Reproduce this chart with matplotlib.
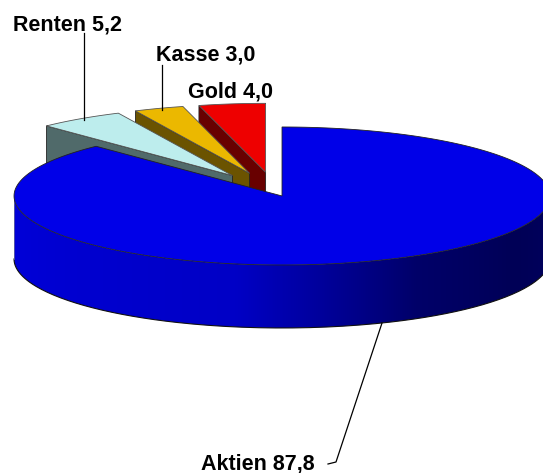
import numpy as np
import matplotlib
matplotlib.use("Agg")
import matplotlib.pyplot as plt
from matplotlib.patches import Polygon

# data
labels = ['Aktien', 'Renten', 'Kasse', 'Gold']
values = [87.8, 5.2, 3.0, 4.0]
value_text = ['87,8', '5,2', '3,0', '4,0']
top_colors = ['#0000E8', '#BDEDED', '#EBB800', '#EE0000']
side_colors = ['#0000C0', '#506A6A', '#6B5300', '#680000']
explode = [0.07, 0.28, 0.28, 0.28]

# pie geometry in pixel space
cx, cy = 275, 191.5
rx, ry = 268, 69
depth = 63

fig = plt.figure(figsize=(5.43, 4.73), dpi=100)
ax = fig.add_axes([0, 0, 1, 1])
ax.set_xlim(0, 543)
ax.set_ylim(473, 0)
ax.axis('off')


def pt(x0, y0, a, r=1.0, z=0.0):
    t = np.radians(a)
    return x0 + rx * r * np.cos(t), y0 - ry * r * np.sin(t) + z


def blue_side(a):
    # shade of the front wall, bright at the left, dark navy at the right
    a = np.asarray(a) % 360
    return np.interp(a, [180, 260, 300, 330, 360], [218, 198, 105, 86, 95]) / 255


total = sum(values)
spans = []
start = 90.0
for v in values:
    end = start - v / total * 360
    spans.append((end, start))
    start = end

centers = []
for i, (t1, t2) in enumerate(spans):
    mid = np.radians((t1 + t2) / 2)
    centers.append((cx + explode[i] * rx * np.cos(mid), cy - explode[i] * ry * np.sin(mid)))

# back to front: Gold, Kasse, Renten, Aktien
for i in [3, 2, 1, 0]:
    t1, t2 = spans[i]
    x0, y0 = centers[i]
    arc = np.linspace(t1, t2, 200)
    z = 2 + (3 - i) * 3
    # radial wall at the ccw end
    if np.cos(np.radians(t2)) < -1e-6:
        ox, oy = pt(x0, y0, t2)
        wall = [(x0, y0), (ox, oy), (ox, oy + depth), (x0, y0 + depth)]
        ax.add_patch(Polygon(wall, closed=True, facecolor=side_colors[i],
                             edgecolor='#222222', linewidth=0.6, zorder=z))
    # curved outer wall, shaded with a gradient
    if i == 0:
        steps = np.linspace(max(t1, -180), min(t2, 0), 200)
        bx, by = pt(x0, y0, steps)
        outline = list(zip(bx, by)) + list(zip(bx[::-1], by[::-1] + depth))
        side = Polygon(outline, closed=True, facecolor='none', edgecolor='none', zorder=20)
        ax.add_patch(side)
        xs = np.linspace(bx.min(), bx.max(), 600)
        ang = 360 - np.degrees(np.arccos(np.clip((xs - x0) / rx, -1, 1)))
        grad = np.zeros((2, len(xs), 3))
        grad[:, :, 2] = blue_side(ang)
        im = ax.imshow(grad, extent=(bx.min(), bx.max(), by.max() + depth + 2, by.min() - 2),
                       aspect='auto', interpolation='bilinear', zorder=20)
        im.set_clip_path(side)
        ax.plot(bx, by + depth, color='#111111', linewidth=0.8, zorder=21)
        ax.plot([bx[0], bx[0]], [by[0], by[0] + depth], color='#6060A0',
                linewidth=0.6, zorder=21)
    # top face
    px, py = pt(x0, y0, arc)
    face = [(x0, y0)] + list(zip(px, py))
    ax.add_patch(Polygon(face, closed=True, facecolor=top_colors[i],
                         edgecolor='#222222' if i == 0 else '#555555',
                         linewidth=0.6, zorder=z + 1 if i else 22))

ax.set_xlim(0, 543)
ax.set_ylim(473, 0)

# labels and leader lines
font = dict(family='Liberation Sans', fontweight='bold', fontsize=15.5, color='black')
label_pos = [(201, 469), (13, 30), (156, 60), (188, 97)]
for i, (lx, ly) in enumerate(label_pos):
    ax.text(lx, ly, f'{labels[i]} {value_text[i]}', ha='left', va='baseline',
            zorder=30, **font)

ax.plot([84, 84], [33, 120], color='black', linewidth=0.9, zorder=30)
ax.plot([162, 162], [65, 110], color='black', linewidth=0.9, zorder=30)
ax.plot([382, 336, 328], [323, 462, 464], color='black', linewidth=0.9, zorder=30)

fig.savefig('out.png', dpi=100, facecolor='white')
